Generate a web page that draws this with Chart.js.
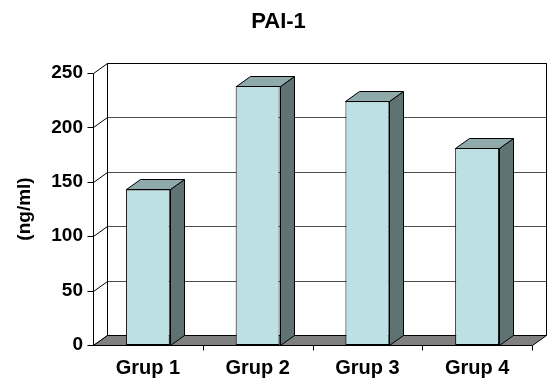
<!DOCTYPE html>
<html>
<head>
<meta charset="utf-8">
<script src="https://cdn.jsdelivr.net/npm/chart.js@4/dist/chart.umd.min.js"></script>
<style>
  html, body { margin: 0; padding: 0; background: #ffffff; }
  #wrap { width: 557px; height: 387px; }
</style>
</head>
<body>
<div id="wrap"><canvas id="c" width="557" height="387"></canvas></div>
<script>
// PAI-1 levels per group (ng/ml)
const categories = ['Grup 1', 'Grup 2', 'Grup 3', 'Grup 4'];
const pai1Values = [143, 238, 224, 181];
const yTicks = [0, 50, 100, 150, 200, 250];

// depth offset of the 3D box (x to the right, y upwards)
const DX = 14, DY = -10;

const colors = {
  front: '#bce0e3',
  side: '#5e7372',
  top: '#8faaab',
  floor: '#808080',
  grid: '#4d4d4d',
  edge: '#000000'
};

const FONT = 'Arial, "Liberation Sans", sans-serif';

function poly(ctx, pts, fill) {
  ctx.beginPath();
  ctx.moveTo(pts[0][0], pts[0][1]);
  for (let i = 1; i < pts.length; i++) ctx.lineTo(pts[i][0], pts[i][1]);
  ctx.closePath();
  if (fill) { ctx.fillStyle = fill; ctx.fill(); }
  ctx.strokeStyle = colors.edge;
  ctx.lineWidth = 1;
  ctx.stroke();
}

// walls, floor, gridlines and the side/top faces of each bar
const box3d = {
  id: 'box3d',
  beforeDatasetsDraw(chart) {
    const ctx = chart.ctx;
    const { left: L, right: R, top: T, bottom: B } = chart.chartArea;
    const ys = chart.scales.y;
    const xs = chart.scales.x;
    ctx.save();
    ctx.translate(0.5, 0.5);
    const l = Math.round(L), r = Math.round(R), t = Math.round(T), b = Math.round(B);

    // back wall
    ctx.fillStyle = '#ffffff';
    ctx.fillRect(l + DX, t + DY, r - l, b - t);

    // gridlines on back wall and side wall
    yTicks.forEach(v => {
      const y = Math.round(ys.getPixelForValue(v));
      ctx.beginPath();
      ctx.strokeStyle = v === 250 ? colors.edge : colors.grid;
      ctx.lineWidth = 1;
      ctx.moveTo(l + DX, y + DY);
      ctx.lineTo(r + DX, y + DY);
      ctx.stroke();
      ctx.beginPath();
      ctx.strokeStyle = colors.edge;
      ctx.moveTo(l, y);
      ctx.lineTo(l + DX, y + DY);
      ctx.stroke();
      // tick mark on the front axis
      ctx.beginPath();
      ctx.moveTo(l - 6, y);
      ctx.lineTo(l, y);
      ctx.stroke();
    });

    // back wall outline
    ctx.strokeStyle = colors.edge;
    ctx.beginPath();
    ctx.moveTo(l + DX, b + DY);
    ctx.lineTo(l + DX, t + DY);
    ctx.lineTo(r + DX, t + DY);
    ctx.lineTo(r + DX, b + DY);
    ctx.stroke();

    // floor
    poly(ctx, [[l, b], [r, b], [r + DX, b + DY], [l + DX, b + DY]], colors.floor);

    // front vertical axis
    ctx.beginPath();
    ctx.moveTo(l, t);
    ctx.lineTo(l, b);
    ctx.stroke();

    // category separators on the front axis
    const step = xs.getPixelForValue(1) - xs.getPixelForValue(0);
    for (let i = 1; i <= categories.length; i++) {
      const xr = Math.round(xs.getPixelForValue(i - 1) + step / 2);
      ctx.beginPath();
      ctx.moveTo(xr, b);
      ctx.lineTo(xr, b + 5);
      ctx.stroke();
    }

    // side and top faces of the bars
    const meta = chart.getDatasetMeta(0);
    meta.data.forEach(bar => {
      const x1 = Math.round(bar.x - bar.width / 2);
      const x2 = Math.round(bar.x + bar.width / 2);
      const yt = Math.round(bar.y);
      poly(ctx, [[x2, yt], [x2 + DX, yt + DY], [x2 + DX, b + DY], [x2, b]], colors.side);
      poly(ctx, [[x1, yt], [x2, yt], [x2 + DX, yt + DY], [x1 + DX, yt + DY]], colors.top);
    });
    ctx.restore();
  }
};

new Chart(document.getElementById('c'), {
  type: 'bar',
  data: {
    labels: categories,
    datasets: [{
      label: 'PAI-1',
      data: pai1Values,
      backgroundColor: colors.front,
      borderColor: colors.edge,
      borderWidth: 1,
      borderSkipped: false,
      barPercentage: 0.4,
      categoryPercentage: 1.0
    }]
  },
  options: {
    responsive: false,
    animation: false,
    layout: { padding: 0 },
    plugins: {
      legend: { display: false },
      tooltip: { enabled: false },
      title: {
        display: true,
        text: 'PAI-1',
        color: '#000000',
        font: { family: FONT, size: 22, weight: 'bold' },
        padding: { top: 9, bottom: 37.6 }
      }
    },
    scales: {
      y: {
        min: 0,
        max: 250,
        afterFit(scale) { scale.width = 93; },
        afterBuildTicks(scale) { scale.ticks = yTicks.map(v => ({ value: v })); },
        grid: { display: false, drawTicks: false },
        border: { display: false },
        ticks: {
          color: '#000000',
          padding: 10,
          font: { family: FONT, size: 19, weight: 'bold' }
        },
        title: {
          display: true,
          text: '(ng/ml)',
          color: '#000000',
          padding: { top: 13, bottom: 0 },
          font: { family: FONT, size: 19, weight: 'bold' }
        }
      },
      // room on the right for the depth of the box
      depth: {
        type: 'linear',
        position: 'right',
        afterFit(scale) { scale.width = 25; },
        grid: { display: false, drawTicks: false },
        border: { display: false },
        ticks: { display: false }
      },
      x: {
        afterFit(scale) { scale.height = 42; },
        grid: { display: false, drawTicks: false },
        border: { display: false },
        ticks: {
          color: '#000000',
          padding: 11,
          maxRotation: 0,
          font: { family: FONT, size: 20, weight: 'bold' }
        }
      }
    }
  },
  plugins: [box3d]
});
</script>
</body>
</html>
